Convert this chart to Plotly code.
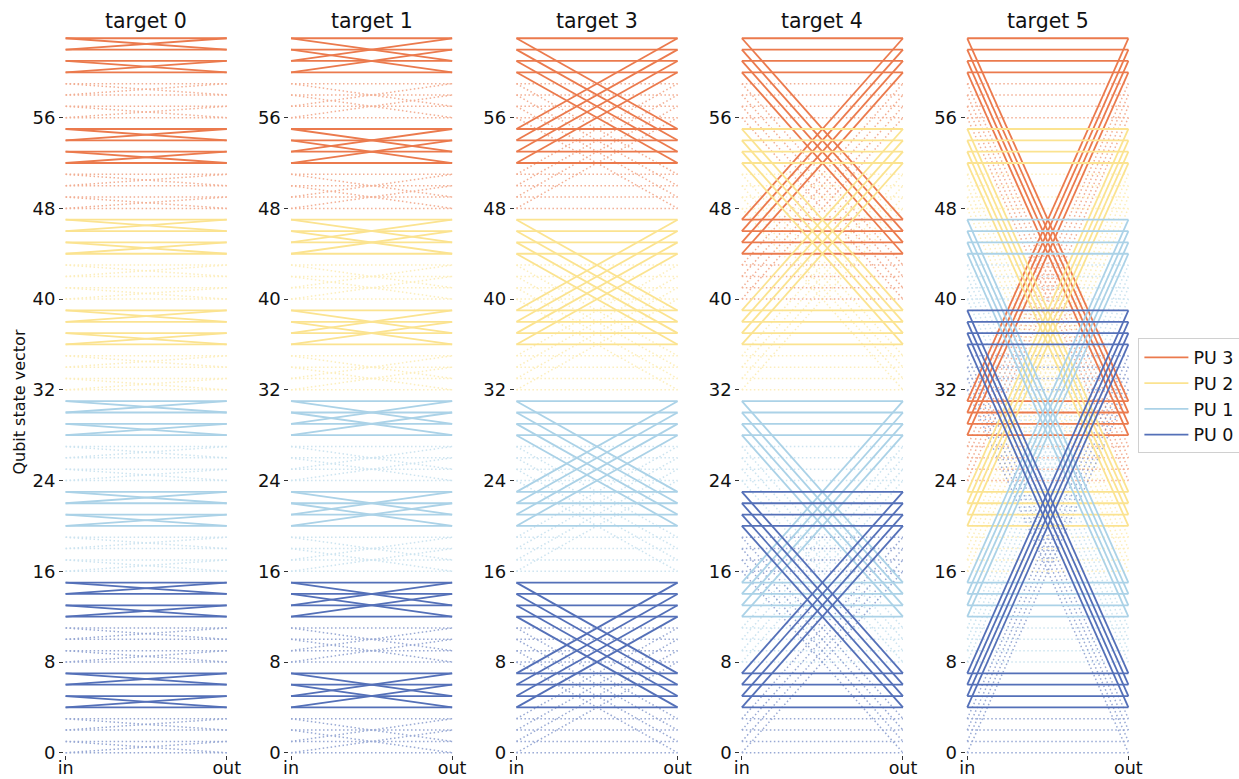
import plotly.graph_objects as go

# ---- data ----
targets = [0, 1, 3, 4, 5]               # target qubit of each panel
n_qubits = 6                            # 64 state-vector entries
control_bit = 2                         # entries with this bit set move (solid lines)
# bits that identify the processing unit (high, low) for each panel
pu_bits = {0: (5, 4), 1: (5, 4), 3: (5, 4), 4: (5, 3), 5: (4, 3)}
pu_names = ["PU 0", "PU 1", "PU 2", "PU 3"]
pu_colors = ["#5470b8", "#abd2e7", "#fbe390", "#eb7a4d"]
y_ticks = [0, 8, 16, 24, 32, 40, 48, 56]
x_labels = ["in", "out"]

n_states = 2 ** n_qubits

fig = go.Figure()

W, H = 1239, 779
pad_x = 0.01
pad_y = 0.2
x0_px, x1_first = 66, 227
panel_w = x1_first - x0_px
step = 225.25
ypx_top, ypx_bot = 38, 753
upy = (ypx_bot - ypx_top) / 63.0
ml = x0_px - pad_x * panel_w
right_edge = x0_px + 4 * step + panel_w + pad_x * panel_w
mr = W - right_edge
mt = ypx_top - pad_y * upy
mb = H - ypx_bot - pad_y * upy
plot_w = W - ml - mr
plot_h = H - mt - mb

for k, t in enumerate(targets):
    xa = "x" if k == 0 else f"x{k+1}"
    ya = "y" if k == 0 else f"y{k+1}"
    hb, lb = pu_bits[t]
    segs = {(p, s): ([], []) for p in range(4) for s in (True, False)}
    for i in range(n_states):
        p = 2 * ((i >> hb) & 1) + ((i >> lb) & 1)
        solid = bool((i >> control_bit) & 1)
        j = i ^ (1 << t)
        xs, ys = segs[(p, solid)]
        xs += [0, 1, None, 0, 1, None]
        ys += [i, i, None, i, j, None]
    for p in [3, 2, 1, 0]:
        xs, ys = segs[(p, False)]
        fig.add_trace(go.Scatter(x=xs, y=ys, mode="lines", xaxis=xa, yaxis=ya,
                                 line=dict(color=pu_colors[p], width=1.5, dash="1.5px,2.5px"),
                                 opacity=0.6, showlegend=False, hoverinfo="skip"))
    for p in [3, 2, 1, 0]:
        xs, ys = segs[(p, True)]
        fig.add_trace(go.Scatter(x=xs, y=ys, mode="lines", xaxis=xa, yaxis=ya,
                                 line=dict(color=pu_colors[p], width=1.8),
                                 name=pu_names[p], legendgroup=pu_names[p],
                                 showlegend=(k == 0), hoverinfo="skip"))

    left_px = x0_px + step * k - pad_x * panel_w
    d0 = (left_px - ml) / plot_w
    d1 = (left_px + panel_w * (1 + 2 * pad_x) - ml) / plot_w
    d1 = min(d1, 1.0)
    fig.layout[("xaxis" if k == 0 else f"xaxis{k+1}")] = dict(
        domain=[d0, d1], range=[-pad_x, 1 + pad_x], anchor=ya, automargin=False,
        tickmode="array", tickvals=[0, 1], ticktext=x_labels,
        ticks="outside", ticklen=4, tickcolor="#333", showgrid=False,
        ticklabelstandoff=-7,
        zeroline=False, showline=False, tickfont=dict(size=17.5, color="#111"))
    fig.layout[("yaxis" if k == 0 else f"yaxis{k+1}")] = dict(
        domain=[0, 1], range=[-pad_y, 63 + pad_y], anchor=xa, automargin=False,
        tickmode="array", tickvals=y_ticks,
        ticks="outside", ticklen=4, tickcolor="#333", showgrid=False,
        zeroline=False, showline=False, tickfont=dict(size=18, color="#111"))
    fig.add_annotation(text=f"target {t}", x=(d0 + d1) / 2, y=1.0, xref="paper", yref="paper",
                       xanchor="center", yanchor="bottom", yshift=1, showarrow=False,
                       font=dict(size=20.5, color="#111"))

fig.add_annotation(text="Qubit state vector", textangle=-90, x=(20 - ml) / plot_w,
                   y=(H - 402 - mb) / plot_h, xref="paper", yref="paper",
                   xanchor="center", yanchor="middle", showarrow=False,
                   font=dict(size=16, color="#111"))

fig.update_layout(
    width=W, height=H, margin=dict(l=ml, r=mr, t=mt, b=mb, autoexpand=False),
    plot_bgcolor="white", paper_bgcolor="white",
    font=dict(family="DejaVu Sans", color="#111"),
    legend=dict(x=(1138 - ml) / plot_w, y=(H - 396 - mb) / plot_h, xanchor="left", yanchor="middle",
                bordercolor="#d0d0d0", borderwidth=1, font=dict(size=17.5),
                traceorder="normal", tracegroupgap=0, itemwidth=44),
)

fig.write_html("out.html", config={"displayModeBar": False},
               post_script="document.body.style.margin='0px';document.body.style.overflow='hidden';")
